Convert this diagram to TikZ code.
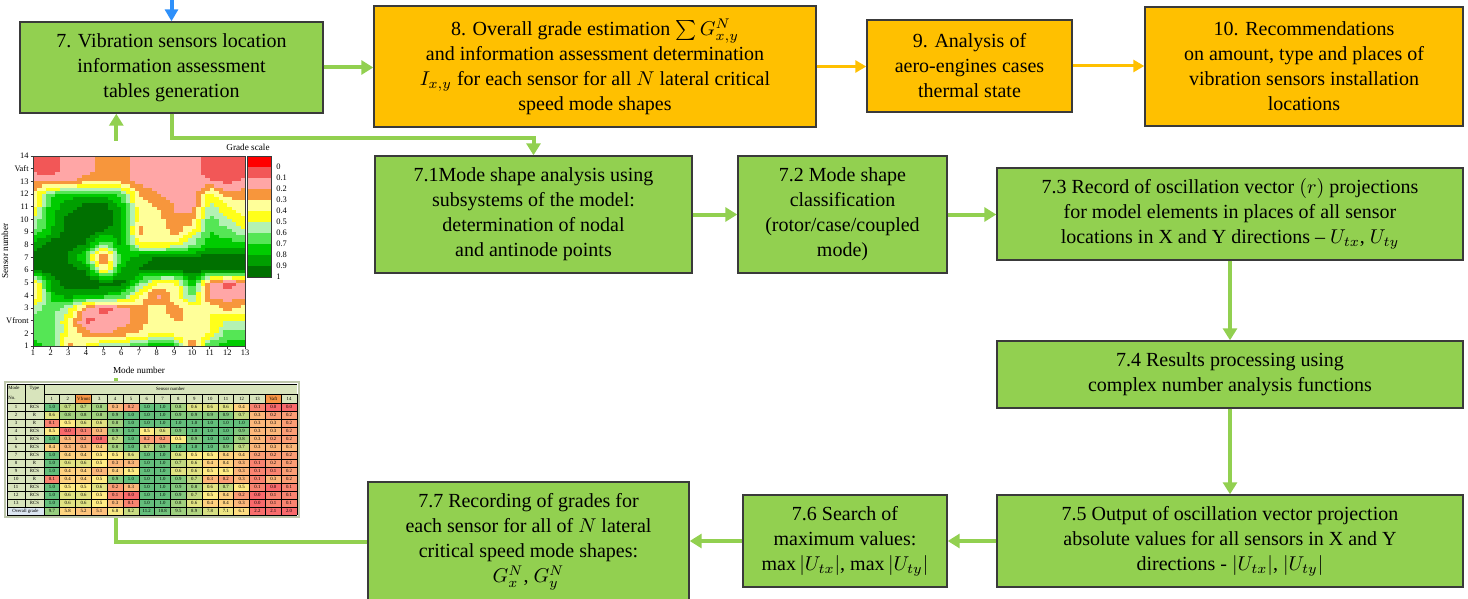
\documentclass[tikz,border=0pt]{standalone}
\usepackage{fontspec}
\setmainfont{Liberation Serif}
\usetikzlibrary{arrows.meta,fit,calc}
\definecolor{gfill}{HTML}{92D050}
\definecolor{ofill}{HTML}{FFC000}
\definecolor{bdr}{HTML}{3A3A3A}
\definecolor{barr}{HTML}{2E90FA}
\definecolor{gc0}{HTML}{FF0000}
\definecolor{gc1}{HTML}{F25757}
\definecolor{gc2}{HTML}{FFA6A6}
\definecolor{gc3}{HTML}{F7963C}
\definecolor{gc4}{HTML}{FFFF99}
\definecolor{gc5}{HTML}{FFFF1A}
\definecolor{gc6}{HTML}{B3F2B3}
\definecolor{gc7}{HTML}{55E655}
\definecolor{gc8}{HTML}{00CC00}
\definecolor{gc9}{HTML}{009F00}
\definecolor{gc10}{HTML}{007000}
\definecolor{tred}{HTML}{F8696B}
\definecolor{tyel}{HTML}{FFEB84}
\definecolor{tgrn}{HTML}{63BE7B}
\definecolor{thead}{HTML}{D8E4BC}
\definecolor{tor}{HTML}{F79646}
\definecolor{tblue}{HTML}{DCE6F1}
\def\cvals{{8,7,3,4.5,6.5,6,8,8,8,2,7.5,8,8,
7,7.5,4.5,3,2,3,3.5,4.5,4,4,4.5,7,7,
7,7,4.5,1,2,2,3,4,3.5,3.5,4.5,5.5,5.5,
6,7,6,2.5,1,2,3,4,3,4,4.5,3,4,
3,8,9,9,8.5,7.5,4.5,2,4,7,2,2,2,
3,9,10,10,10,10,7,4.5,4,8.5,2.5,1,2,
10,10,10,9.5,4,8.5,9.5,10,10,10,10,10,10,
10,10,9.5,7,1.5,8,9,9.5,9.5,9.5,10,10,10,
9,10,10,9.5,6,9,5,4.5,5,6.5,8,8,8,
6.5,8.5,10,10,9.5,9,3,4.5,3,4.5,7.5,7,5.5,
5.5,8,10,10,10,9,4,4,2.5,3,7,5.5,4.5,
4,8,9,10,10,8.5,4,3.5,2.5,2,6,4.5,4,
3.5,7,8,8,8,7,3.5,2.5,2,1.5,5,3,3,
2.5,2,2,3,3,3,2,2,2,2,1.5,1,1.8,
1,1,2,2,3,3,2,2,2,2,1,1,1,
1,1,2,2,3,3,2,2,2,2,1,1,1}}
\def\tvals{{1.0,0.7,0.7,0.8,0.3,0.2,1.0,1.0,0.8,0.6,0.6,0.6,0.4,0.1,0.0,0.0,
0.6,0.8,0.8,0.8,0.9,1.0,1.0,1.0,0.9,0.9,0.9,0.9,0.7,0.3,0.2,0.2,
0.1,0.5,0.6,0.6,0.8,1.0,1.0,1.0,1.0,1.0,1.0,1.0,1.0,0.3,0.3,0.2,
0.5,0.0,0.1,0.3,0.9,1.0,0.5,0.6,0.9,1.0,1.0,1.0,0.9,0.3,0.3,0.2,
1.0,0.3,0.2,0.0,0.7,1.0,0.2,0.2,0.5,0.9,1.0,1.0,0.8,0.3,0.2,0.2,
0.4,0.3,0.3,0.4,0.8,1.0,0.7,0.9,1.0,1.0,1.0,0.9,0.7,0.3,0.3,0.3,
1.0,0.4,0.4,0.5,0.5,0.6,1.0,1.0,0.6,0.5,0.5,0.4,0.4,0.2,0.2,0.2,
1.0,0.6,0.6,0.5,0.3,0.3,1.0,1.0,0.7,0.6,0.4,0.4,0.3,0.1,0.2,0.2,
1.0,0.4,0.4,0.3,0.4,0.5,1.0,1.0,0.6,0.6,0.5,0.5,0.3,0.1,0.1,0.2,
0.1,0.4,0.4,0.5,0.9,1.0,1.0,1.0,0.9,0.7,0.3,0.2,0.3,0.1,0.3,0.2,
1.0,0.5,0.5,0.6,0.2,0.3,1.0,1.0,0.9,0.8,0.6,0.7,0.5,0.1,0.0,0.1,
1.0,0.6,0.6,0.5,0.1,0.0,1.0,1.0,0.9,0.7,0.5,0.4,0.2,0.0,0.1,0.1,
1.0,0.6,0.6,0.5,0.3,0.1,1.0,1.0,0.8,0.6,0.4,0.4,0.3,0.0,0.1,0.1}}
\def\ovals{{9.7,5.8,5.2,5.1,6.8,8.2,11.2,10.8,9.5,8.9,7.8,7.1,6.1,2.2,2.1,2.0}}
\begin{document}
\begin{tikzpicture}[x=0.5pt,y=-0.5pt,
  gbox/.style={draw=bdr,line width=0.7pt,fill=gfill,inner sep=0pt},
  obox/.style={gbox,fill=ofill},
  btxt/.style={align=center,inner sep=0pt,font=\fontsize{10}{12.5}\selectfont},
  garrow/.style={draw=gfill,line width=2pt,-{Triangle[width=7pt,length=6pt]}},
  oarrow/.style={draw=ofill,line width=1.5pt,-{Triangle[width=6pt,length=5.5pt]}},
  barrow/.style={draw=barr,line width=2pt,-{Triangle[width=6.5pt,length=6pt]}},
  ticklab/.style={font=\fontsize{4.2}{5}\selectfont,inner sep=0.5pt},
  tabtxt/.style={font=\fontsize{2.4}{3}\selectfont,inner sep=0pt},
]
\useasboundingbox (0,0) rectangle (1468,599);

% ---------- boxes ----------
\node[gbox,fit={(20,22)(323,113)}] (b7) {};
\node[btxt] (b7t) at (b7.center) {7. Vibration sensors location\\information assessment\\tables generation};
\node[obox,fit={(374,6)(816,127)}] (b8) {};
\node[btxt] (b8t) at (b8.center) {8. Overall grade estimation $\sum G^{N}_{x,y}$\\and information assessment determination\\$I_{x,y}$ for each sensor for all $N$ lateral critical\\speed mode shapes};
\node[obox,fit={(867,20)(1072,112)}] (b9) {};
\node[btxt] (b9t) at (b9.center) {9. Analysis of\\aero-engines cases\\thermal state};
\node[obox,fit={(1145,7)(1463,126)}] (b10) {};
\node[btxt] (b10t) at (b10.center) {10. Recommendations\\on amount, type and places of\\vibration sensors installation\\locations};
\node[gbox,fit={(375,156)(692,273)}] (b71) {};
\node[btxt] (b71t) at (b71.center) {7.1Mode shape analysis using\\subsystems of the model:\\determination of nodal\\and antinode points};
\node[gbox,fit={(738,156)(947,273)}] (b72) {};
\node[btxt] (b72t) at (b72.center) {7.2 Mode shape\\classification\\(rotor/case/coupled\\mode)};
\node[gbox,fit={(997,168)(1463,260)}] (b73) {};
\node[btxt] (b73t) at (b73.center) {7.3 Record of oscillation vector $(r)$ projections\\for model elements in places of all sensor\\locations in X and Y directions -- $U_{tx}$, $U_{ty}$};
\node[gbox,fit={(997,341)(1463,408)}] (b74) {};
\node[btxt] (b74t) at (b74.center) {7.4 Results processing using\\complex number analysis functions};
\node[gbox,fit={(997,495)(1463,587)}] (b75) {};
\node[btxt] (b75t) at (b75.center) {7.5 Output of oscillation vector projection\\absolute values for all sensors in X and Y\\directions - $|U_{tx}|$, $|U_{ty}|$};
\node[gbox,fit={(743,495)(947,587)}] (b76) {};
\node[btxt] (b76t) at (b76.center) {7.6 Search of\\maximum values:\\$\max|U_{tx}|$, $\max|U_{ty}|$};
\node[gbox,fit={(368,482)(689,602)}] (b77) {};
\node[btxt] (b77t) at (b77.center) {7.7 Recording of grades for\\each sensor for all of $N$ lateral\\critical speed mode shapes:\\$G^{N}_{x}$, $G^{N}_{y}$};

% ---------- connectors ----------
\coordinate (bin) at ($(b7.north)+(0,-22)$);
\draw[barrow] (bin) -- (b7.north);
\draw[garrow] (b7.east) -- (b7.east -| b8.west);
\draw[oarrow] (b8.east) -- (b8.east -| b9.west);
\draw[oarrow] (b9.east) -- (b9.east -| b10.west);
\draw[garrow] (b7.south) -- ++(0,24) -| (b71.north);
\draw[garrow] (b71.east) -- (b71.east -| b72.west);
\draw[garrow] (b72.east) -- (b72.east -| b73.west);
\draw[garrow] (b73.south) -- (b74.north);
\draw[garrow] (b74.south) -- (b75.north);
\draw[garrow] (b75.west) -- (b75.west -| b76.east);
\draw[garrow] (b76.west) -- (b76.west -| b77.east);
\coordinate (c7in) at ([xshift=48.5pt]b7.south west);
\draw[garrow] (b77.west) -| (c7in);

% ---------- contour plot ----------
\fill[white] (0,141) rectangle (300,378);
\begin{scope}
\clip (33,156) rectangle (245,346);
\foreach \r in {0,...,14}{
  \foreach \c in {0,...,11}{
    \pgfmathtruncatemacro\ia{\r*13+\c}
    \pgfmathtruncatemacro\ib{\ia+1}
    \pgfmathtruncatemacro\ic{\ia+13}
    \pgfmathtruncatemacro\id{\ia+14}
    \pgfmathsetmacro\va{\cvals[\ia]}
    \pgfmathsetmacro\vb{\cvals[\ib]}
    \pgfmathsetmacro\vc{\cvals[\ic]}
    \pgfmathsetmacro\vd{\cvals[\id]}
    \foreach \i in {0,...,3}{
      \foreach \j in {0,...,3}{
        \pgfmathsetmacro\u{(\i+0.5)/4}
        \pgfmathsetmacro\w{(\j+0.5)/4}
        \pgfmathtruncatemacro\k{round(\va*(1-\u)*(1-\w)+\vb*\u*(1-\w)+\vc*(1-\u)*\w+\vd*\u*\w)}
        \fill[gc\k] ({33+(\c+\i/4)*17.6667},{346-(\r+\j/4)*12.6667}) rectangle ++(4.7,-3.45);
      }
    }
  }
}
\end{scope}
\draw[bdr,line width=0.3pt] (33,156) rectangle (245,346);
\foreach \t [count=\n from 0] in {1,2,Vfront,3,4,5,6,7,8,9,10,11,12,13,Vaft,14}{
  \draw[bdr,line width=0.3pt] (30.5,{346-\n*12.6667}) -- (33,{346-\n*12.6667});
  \node[ticklab,anchor=east] (yt\n) at (30,{346-\n*12.6667}) {\t};
}
\foreach \m in {1,...,13}{
  \draw[bdr,line width=0.3pt] ({33+(\m-1)*17.6667},346) -- ({33+(\m-1)*17.6667},348.5);
  \node[ticklab,anchor=north] (xt\m) at ({33+(\m-1)*17.6667},348.5) {\m};
}
\node[ticklab,font=\fontsize{4.6}{5}\selectfont] (xlab) at (139,370) {Mode number};
\node[ticklab,font=\fontsize{4.6}{5}\selectfont,rotate=90] (ylab) at (5,251) {Sensor number};
\foreach \k in {0,...,10}{
  \fill[gc\k] (247,{156+\k*11}) rectangle (271,{167+\k*11});
}
\draw[bdr,line width=0.3pt] (247,156) rectangle (271,277);
\foreach \t [count=\n from 0] in {0,0.1,0.2,0.3,0.4,0.5,0.6,0.7,0.8,0.9,1}{
  \node[ticklab,anchor=west] (gl\n) at (275,{167+\n*11}) {\t};
}
\node[ticklab,font=\fontsize{4.6}{5}\selectfont] (gscale) at (248,147) {Grade scale};

% ---------- table ----------
\fill[white] (2,381) rectangle (300,518);
\fill[thead] (7,384) rectangle (297,403);
\fill[thead] (7,403) rectangle (44,507);
\fill[tblue] (7,507) rectangle (44,515);
\foreach \j in {2,14}{ \fill[tor] ({44+\j*15.8125},394) rectangle ++(15.8125,9); }
\foreach \i in {0,...,12}{
  \foreach \j in {0,...,15}{
    \pgfmathtruncatemacro\ix{\i*16+\j}
    \pgfmathsetmacro\tv{\tvals[\ix]}
    \pgfmathtruncatemacro\hi{\tv>=0.5}
    \ifnum\hi=1
      \pgfmathtruncatemacro\p{round(200*\tv-100)}\def\cn{tgrn}
    \else
      \pgfmathtruncatemacro\p{round(100-200*\tv)}\def\cn{tred}
    \fi
    \fill[\cn!\p!tyel] ({44+\j*15.8125},{403+\i*8}) rectangle ++(15.8125,8);
    \node[tabtxt] (tc\i-\j) at ({44+(\j+0.5)*15.8125},{407+\i*8}) {\tv};
  }
}
\foreach \j in {0,...,15}{
  \pgfmathsetmacro\ov{\ovals[\j]}
  \pgfmathsetmacro\tv{(\ov-2)/9.2}
  \pgfmathtruncatemacro\hi{\tv>=0.5}
  \ifnum\hi=1
    \pgfmathtruncatemacro\p{round(200*\tv-100)}\def\cn{tgrn}
  \else
    \pgfmathtruncatemacro\p{round(100-200*\tv)}\def\cn{tred}
  \fi
  \fill[\cn!\p!tyel] ({44+\j*15.8125},507) rectangle ++(15.8125,8);
  \node[tabtxt] (to\j) at ({44+(\j+0.5)*15.8125},511) {\ov};
}
\begin{scope}[black,line width=0.35pt]
  \foreach \j in {0,...,16}{ \draw ({44+\j*15.8125},394) -- ({44+\j*15.8125},515); }
  \draw (7,384) -- (7,515);
  \draw (25,384) -- (25,507);
  \draw (44,384) -- (44,394);
  \draw (44,394) -- (297,394);
  \foreach \i in {0,...,14}{ \draw (7,{403+\i*8}) -- (297,{403+\i*8}); }
  \draw (7,384) -- (297,384);
\end{scope}
\draw[thead!70!gray,line width=0.8pt] (5,382) rectangle (299,517);
\node[tabtxt,anchor=west] (hmode) at (8,388) {Mode};
\node[tabtxt,anchor=west] (hno) at (8,398) {No.};
\node[tabtxt] (htype) at (34.5,388) {Type};
\node[tabtxt] (hsens) at (170.5,389) {Sensor number};
\foreach \t [count=\n from 0] in {1,2,Vfront,3,4,5,6,7,8,9,10,11,12,13,Vaft,14}{
  \node[tabtxt] (hs\n) at ({44+(\n+0.5)*15.8125},398.5) {\t};
}
\foreach \t [count=\n from 1] in {RCS,R,R,RCS,RCS,RCS,RCS,R,RCS,R,RCS,RCS,RCS}{
  \node[tabtxt] (mn\n) at (16,{399+\n*8}) {\n};
  \node[tabtxt] (ty\n) at (34.5,{399+\n*8}) {\t};
}
\node[tabtxt] (ovg) at (25.5,511) {Overall grade};
\end{tikzpicture}
\end{document}
